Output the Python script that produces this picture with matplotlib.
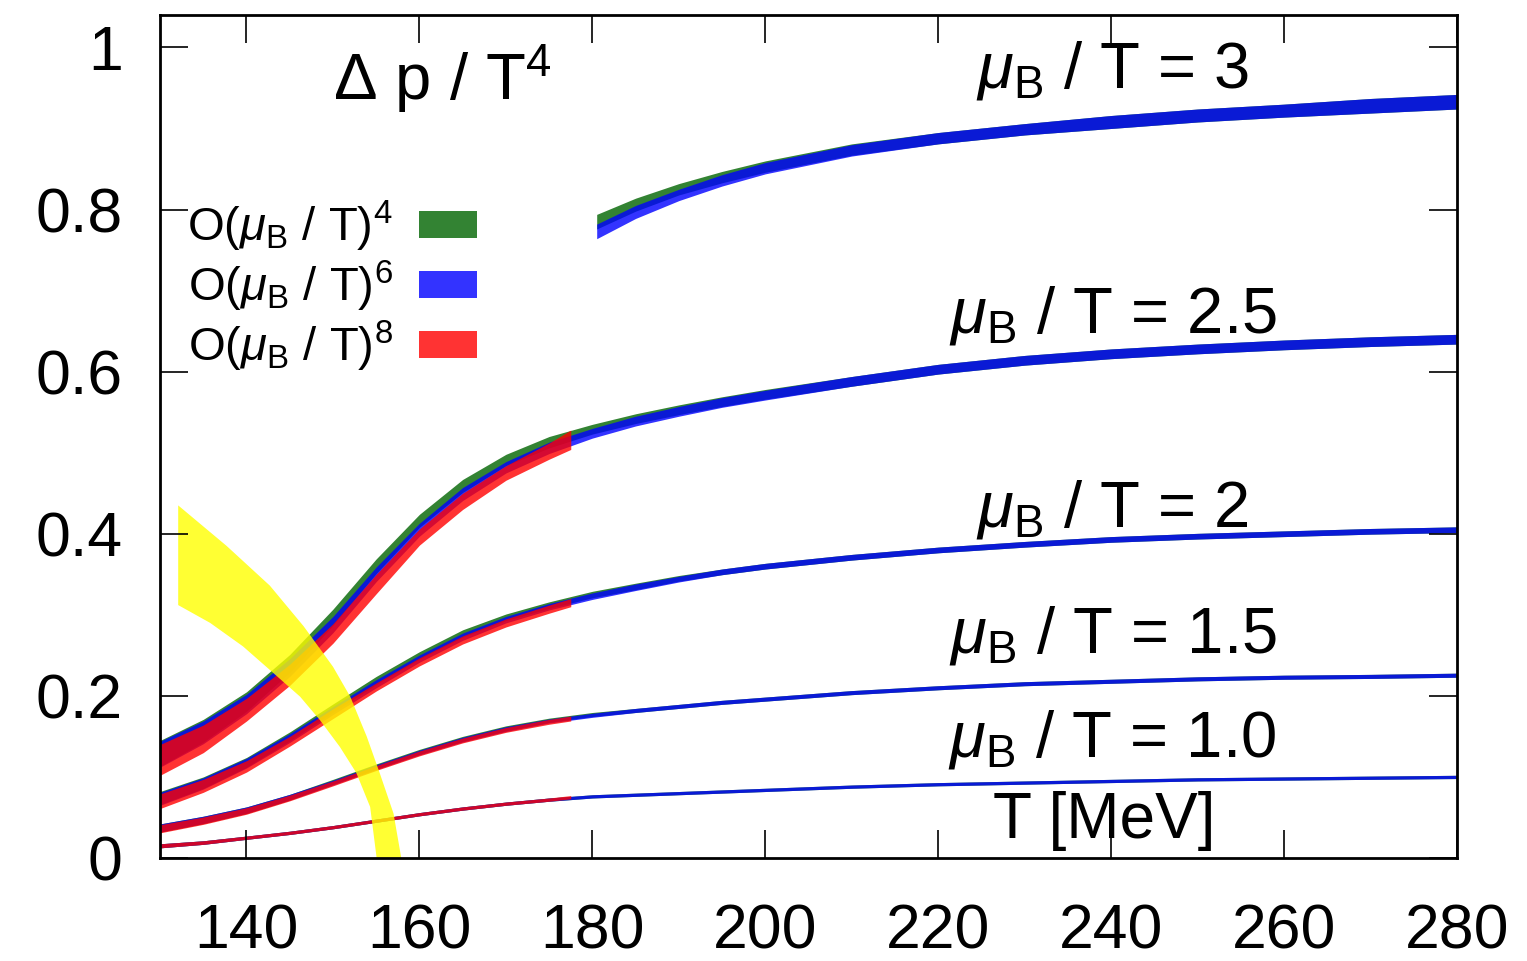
import matplotlib
matplotlib.use('Agg')
import matplotlib.pyplot as plt
from matplotlib.patches import Patch
import numpy as np

plt.rcParams['font.family'] = ['Liberation Sans', 'DejaVu Sans']
plt.rcParams['mathtext.fontset'] = 'custom'
plt.rcParams['mathtext.rm'] = 'Liberation Sans'
plt.rcParams['mathtext.it'] = 'Liberation Sans:italic'
plt.rcParams['mathtext.bf'] = 'Liberation Sans:bold'

# temperature grids [MeV]
T_full = [130, 135, 140, 145, 150, 155, 160, 165, 170, 175, 180, 185, 190, 195, 200, 210, 220, 230, 240, 250, 260, 270, 280]
T_o8 = [130, 135, 140, 145, 150, 155, 160, 165, 170, 175, 177.5]
T_mu3 = [180.5, 185, 190, 195, 200, 210, 220, 230, 240, 250, 260, 270, 280]

# mu_B/T = 1.0
o6_mu10 = [0.015, 0.019, 0.025, 0.031, 0.038, 0.046, 0.054, 0.061, 0.067, 0.072, 0.076, 0.078, 0.080, 0.082, 0.084, 0.088, 0.091, 0.093, 0.095, 0.097, 0.098, 0.099, 0.100]
o4_mu10 = [0.015, 0.019, 0.025, 0.031, 0.038, 0.046, 0.054, 0.061, 0.067, 0.072, 0.076, 0.078, 0.080, 0.082, 0.084, 0.088, 0.091, 0.093, 0.095, 0.097, 0.098, 0.099, 0.100]
w_mu10 = [0.0025, 0.0022, 0.002, 0.002, 0.002, 0.002, 0.002, 0.002, 0.002, 0.002, 0.002, 0.002, 0.002, 0.002, 0.002, 0.002, 0.002, 0.002, 0.002, 0.002, 0.002, 0.002, 0.002]
o8_mu10 = [0.015, 0.019, 0.025, 0.031, 0.038, 0.046, 0.054, 0.061, 0.067, 0.072, 0.075]
w8_mu10 = [0.0025, 0.0022, 0.002, 0.002, 0.002, 0.002, 0.002, 0.002, 0.002, 0.002, 0.002]

# mu_B/T = 1.5
o6_mu15 = [0.037, 0.047, 0.059, 0.075, 0.093, 0.112, 0.130, 0.146, 0.159, 0.169, 0.176, 0.182, 0.187, 0.192, 0.196, 0.204, 0.210, 0.215, 0.218, 0.221, 0.223, 0.224, 0.2255]
o4_mu15 = [0.037, 0.047, 0.059, 0.075, 0.094, 0.113, 0.131, 0.147, 0.160, 0.170, 0.177, 0.182, 0.187, 0.192, 0.196, 0.204, 0.210, 0.215, 0.218, 0.221, 0.223, 0.224, 0.2255]
w_mu15 = [0.005, 0.0045, 0.004, 0.0035, 0.003, 0.003, 0.003, 0.003, 0.003, 0.0025, 0.0025, 0.0025, 0.0025, 0.0025, 0.0025, 0.0025, 0.0025, 0.0025, 0.0025, 0.0025, 0.0025, 0.0025, 0.0025]
o8_mu15 = [0.036, 0.046, 0.058, 0.074, 0.092, 0.111, 0.129, 0.145, 0.158, 0.168, 0.172]
w8_mu15 = [0.005, 0.0045, 0.004, 0.0035, 0.003, 0.003, 0.003, 0.003, 0.003, 0.003, 0.003]

# mu_B/T = 2
o6_mu20 = [0.073, 0.092, 0.117, 0.148, 0.182, 0.215, 0.246, 0.273, 0.294, 0.310, 0.323, 0.334, 0.344, 0.353, 0.360, 0.371, 0.380, 0.387, 0.393, 0.397, 0.400, 0.403, 0.405]
o4_mu20 = [0.074, 0.093, 0.118, 0.150, 0.185, 0.219, 0.250, 0.277, 0.297, 0.312, 0.325, 0.335, 0.345, 0.353, 0.360, 0.371, 0.380, 0.387, 0.393, 0.397, 0.400, 0.403, 0.405]
w_mu20 = [0.008, 0.007, 0.006, 0.0055, 0.005, 0.005, 0.0045, 0.0045, 0.004, 0.004, 0.004, 0.004, 0.0035, 0.0035, 0.0035, 0.0035, 0.0035, 0.0035, 0.0035, 0.0035, 0.0035, 0.0035, 0.0035]
o8_mu20 = [0.070, 0.089, 0.113, 0.144, 0.178, 0.211, 0.242, 0.269, 0.290, 0.307, 0.315]
w8_mu20 = [0.009, 0.008, 0.007, 0.006, 0.006, 0.005, 0.005, 0.005, 0.005, 0.005, 0.005]

# mu_B/T = 2.5
o6_mu25 = [0.128, 0.155, 0.190, 0.235, 0.288, 0.350, 0.405, 0.449, 0.482, 0.506, 0.524, 0.539, 0.551, 0.562, 0.571, 0.588, 0.603, 0.614, 0.622, 0.628, 0.633, 0.637, 0.640]
o4_mu25 = [0.129, 0.157, 0.193, 0.240, 0.297, 0.360, 0.416, 0.459, 0.491, 0.513, 0.529, 0.542, 0.553, 0.563, 0.572, 0.588, 0.603, 0.614, 0.622, 0.628, 0.633, 0.637, 0.640]
w_mu25 = [0.016, 0.014, 0.012, 0.011, 0.010, 0.009, 0.008, 0.008, 0.007, 0.007, 0.006, 0.006, 0.006, 0.006, 0.006, 0.006, 0.006, 0.006, 0.006, 0.006, 0.006, 0.006, 0.006]
o8_mu25 = [0.121, 0.147, 0.183, 0.226, 0.277, 0.338, 0.396, 0.440, 0.475, 0.502, 0.516]
w8_mu25 = [0.019, 0.017, 0.014, 0.013, 0.012, 0.012, 0.010, 0.010, 0.009, 0.010, 0.012]

# mu_B/T = 3 (only O4 and O6)
o6_mu30 = [0.773, 0.797, 0.818, 0.836, 0.851, 0.873, 0.888, 0.899, 0.908, 0.916, 0.922, 0.928, 0.933]
o4_mu30 = [0.785, 0.806, 0.825, 0.840, 0.853, 0.874, 0.888, 0.899, 0.908, 0.916, 0.922, 0.928, 0.933]
w_mu30 = [0.009, 0.008, 0.007, 0.007, 0.007, 0.007, 0.007, 0.007, 0.008, 0.008, 0.008, 0.009, 0.009]

# yellow band (transition region)
band_T_outer = [132.1, 137.7, 142.7, 146.6, 150.0, 152.0, 153.9, 155.4, 157.0, 157.9]
band_v_outer = [0.435, 0.385, 0.336, 0.286, 0.236, 0.199, 0.150, 0.105, 0.055, 0.0]
band_T_inner = [155.05, 154.3, 152.7, 150.8, 148.5, 146.2, 142.7, 139.6, 135.8, 132.1]
band_v_inner = [0.0, 0.063, 0.105, 0.137, 0.170, 0.199, 0.232, 0.261, 0.290, 0.312]

curve_labels = [r'$\mu_\mathrm{B}$ / T = 3', r'$\mu_\mathrm{B}$ / T = 2.5', r'$\mu_\mathrm{B}$ / T = 2',
                r'$\mu_\mathrm{B}$ / T = 1.5', r'$\mu_\mathrm{B}$ / T = 1.0']
label_T = [256.0, 259.1, 255.9, 259.1, 259.1]
label_v = [0.950, 0.648, 0.409, 0.253, 0.125]

green, blue, red = '#006400', '#0000ff', '#ff0000'

fig = plt.figure(figsize=(15.27, 9.61), dpi=100)
ax = fig.add_axes([0.1048, 0.1072, 0.8494, 0.8772])

def band(x, mid, half, col):
    mid = np.array(mid)
    half = np.array(half)
    ax.fill_between(x, mid - half, mid + half, color=col, alpha=0.8, lw=0)

# O4 first, then O6, O8 on top
for mid, half in [(o4_mu10, w_mu10), (o4_mu15, w_mu15), (o4_mu20, w_mu20), (o4_mu25, w_mu25)]:
    band(T_full, mid, half, green)
band(T_mu3, o4_mu30, w_mu30, green)
for mid, half in [(o6_mu10, w_mu10), (o6_mu15, w_mu15), (o6_mu20, w_mu20), (o6_mu25, w_mu25)]:
    band(T_full, mid, half, blue)
band(T_mu3, o6_mu30, w_mu30, blue)
for mid, half in [(o8_mu10, w8_mu10), (o8_mu15, w8_mu15), (o8_mu20, w8_mu20), (o8_mu25, w8_mu25)]:
    band(T_o8, mid, half, red)

ax.fill(band_T_outer + band_T_inner, band_v_outer + band_v_inner, color='#ffff00', alpha=0.8, lw=0)

for txt, x, y in zip(curve_labels, label_T, label_v):
    ax.text(x, y, txt, fontsize=47, ha='right', va='baseline')
ax.text(150.0, 0.935, r'$\Delta$ p / T$^4$', fontsize=47, ha='left', va='baseline')
ax.text(252.0, 0.025, 'T [MeV]', fontsize=46, ha='right', va='baseline')

handles = [Patch(facecolor=green, alpha=0.8, lw=0),
           Patch(facecolor=blue, alpha=0.8, lw=0),
           Patch(facecolor=red, alpha=0.8, lw=0)]
labels = [r'O($\mu_\mathrm{B}$ / T)$^4$', r'O($\mu_\mathrm{B}$ / T)$^6$', r'O($\mu_\mathrm{B}$ / T)$^8$']
ax.legend(handles, labels, loc='upper left', bbox_to_anchor=(0.0208, 0.782), markerfirst=False,
          frameon=False, fontsize=34, handlelength=1.23, handleheight=0.5, handletextpad=0.57,
          labelspacing=0.1, borderaxespad=0.0, borderpad=0.0)

ax.set_xlim(130, 280)
ax.set_ylim(0, 1.04)
ax.set_xticks([140, 160, 180, 200, 220, 240, 260, 280])
ax.set_yticks([0, 0.2, 0.4, 0.6, 0.8, 1.0])
ax.set_yticklabels(['0', '0.2', '0.4', '0.6', '0.8', '1'])
ax.tick_params(direction='in', length=20, width=1.2, top=True, right=True, labelsize=45)
ax.tick_params(axis='x', pad=32)
ax.tick_params(axis='y', pad=27)
for s in ax.spines.values():
    s.set_linewidth(2)

plt.savefig('out.png', dpi=100)
